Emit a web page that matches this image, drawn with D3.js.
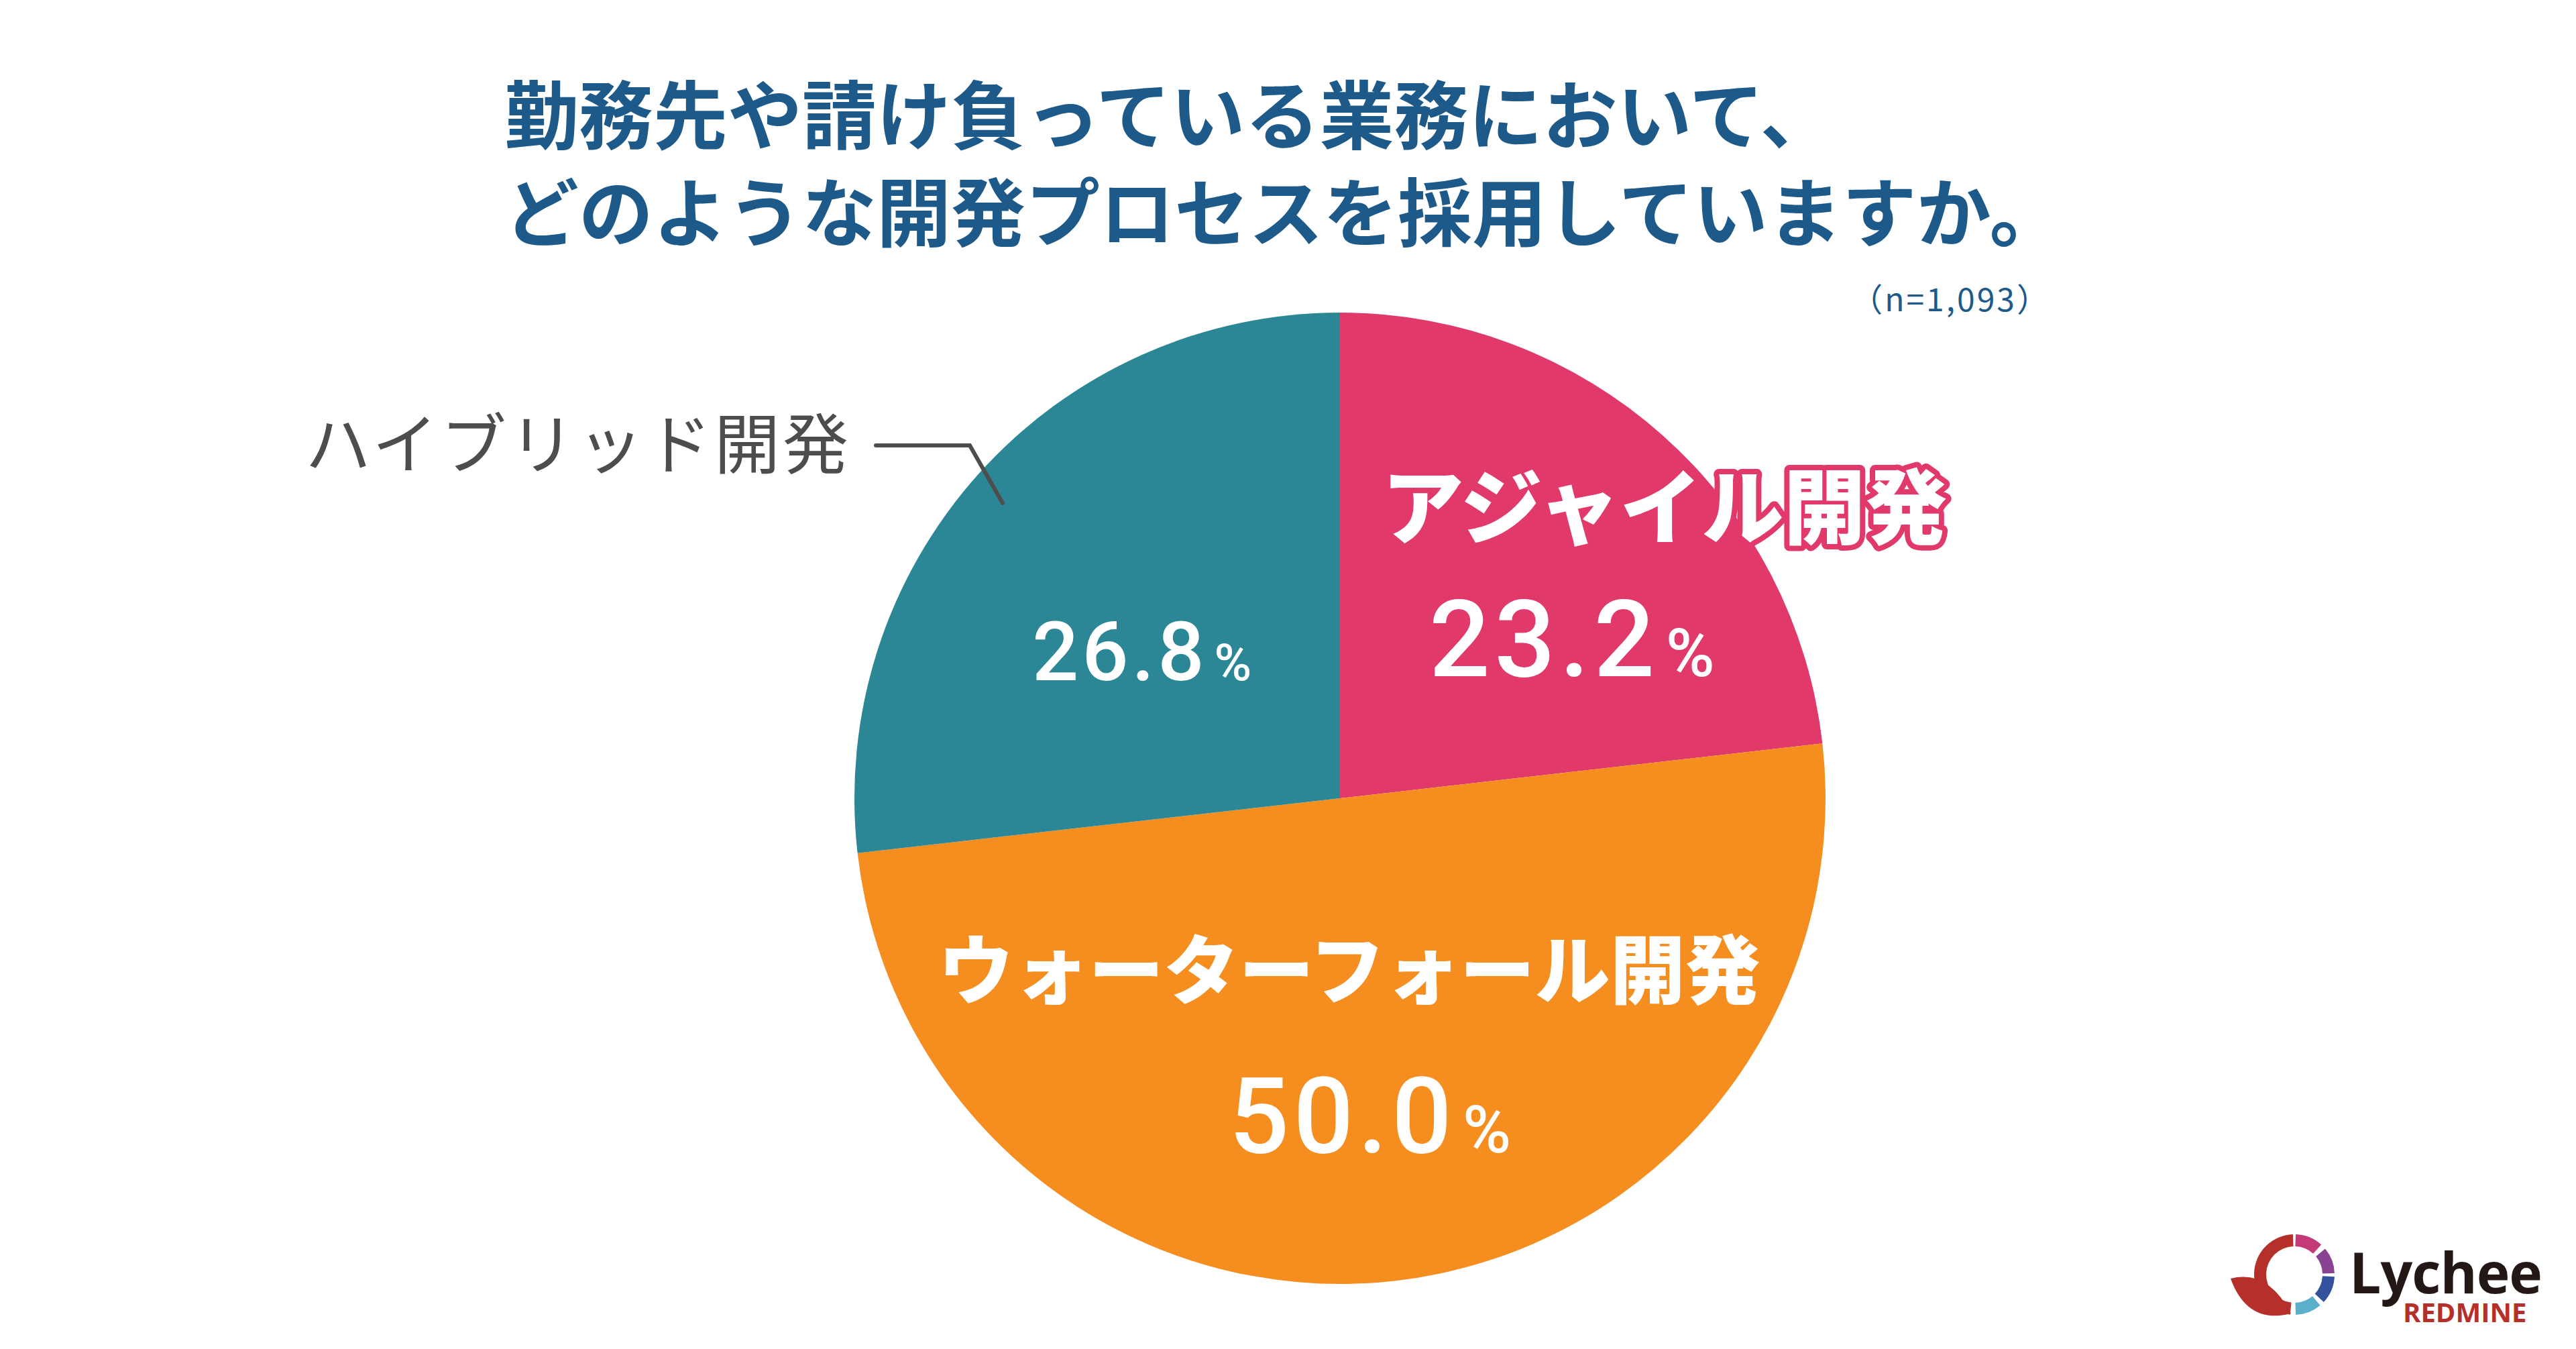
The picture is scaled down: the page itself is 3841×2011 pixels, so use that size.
<!DOCTYPE html>
<html><head><meta charset="utf-8">
<script src="https://cdn.jsdelivr.net/npm/d3@7"></script>
<style>body{margin:0;background:#fff}svg{display:block}</style>
</head><body>
<script>
const categories = ["アジャイル開発", "ウォーターフォール開発", "ハイブリッド開発"];
const values = [23.2, 50.0, 26.8];
const colors = ["#E0396A", "#F58D1F", "#2B8796"];
const titleLines = ["勤務先や請け負っている業務において、", "どのような開発プロセスを採用していますか。"];
const sampleNote = "（n=1,093）";

const W = 3841, H = 2011;
const svg = d3.select("body").append("svg").attr("width", W).attr("height", H);
const F = "'Noto Sans CJK JP','Noto Sans',sans-serif";

svg.selectAll("text.title").data(titleLines).join("text")
  .attr("x", 752).attr("y", (d, i) => 214 + i * 145)
  .attr("font-family", F).attr("font-weight", 700).attr("font-size", 111)
  .attr("fill", "#1D5A8A").text(d => d);
svg.append("text").attr("x", 3058).attr("y", 464).attr("text-anchor", "end")
  .attr("font-family", F).attr("font-size", 48).attr("fill", "#1D5A8A").attr("letter-spacing", 3).text(sampleNote);

const cx = 1998, cy = 1190, R = 724;
const pie = d3.pie().sort(null).value(d => d)(values);
const arc = d3.arc().innerRadius(0).outerRadius(R);
const g = svg.append("g").attr("transform", `translate(${cx},${cy})`);
g.selectAll("path").data(pie).join("path").attr("d", arc).attr("fill", (d, i) => colors[i]);

function pct(x, y, v, size) {
  const t = svg.append("text").attr("x", x).attr("y", y).attr("text-anchor", "middle")
    .attr("font-family", "Roboto,'Liberation Sans',sans-serif").attr("font-weight", 500)
    .attr("fill", "#fff").attr("font-size", size).attr("letter-spacing", size * 0.04);
  t.append("tspan").text(v.toFixed(1));
  t.append("tspan").attr("font-size", size * 0.62).attr("dx", 10).text("%");
}
svg.append("text").attr("x", 2482).attr("y", 801).attr("text-anchor", "middle")
  .attr("font-family", F).attr("font-weight", 900).attr("font-size", 122)
  .attr("fill", "#fff").attr("stroke", "#E0396A").attr("stroke-width", 16)
  .attr("paint-order", "stroke").attr("stroke-linejoin", "round").text(categories[0]);
pct(2347, 1008, values[0], 160);
svg.append("text").attr("x", 2012).attr("y", 1488).attr("text-anchor", "middle")
  .attr("font-family", F).attr("font-weight", 900).attr("font-size", 112)
  .attr("fill", "#fff").text(categories[1]);
pct(2046, 1718, values[1], 158);
pct(1705, 1014, values[2], 122);

svg.append("text").attr("x", 1269).attr("y", 698).attr("text-anchor", "end")
  .attr("font-family", F).attr("font-size", 98).attr("letter-spacing", 4).attr("fill", "#4d4d4d").text(categories[2]);
svg.append("path").attr("d", "M1306,664 L1446,664 L1495,750")
  .attr("fill", "none").attr("stroke", "#4d4d4d").attr("stroke-width", 6).attr("stroke-linecap", "round");

// logo
const lg = svg.append("g").attr("transform", "translate(3421,1900)");
const la = d3.arc().innerRadius(42).outerRadius(60);
const deg = Math.PI / 180;
[[2, 42, "#C43A78"], [50, 88, "#8A4393"], [93, 133, "#33519D"], [140, 178, "#5BAFCB"], [186, 358, "#B5302A"]]
  .forEach(s => lg.append("path").attr("d", la({startAngle: s[0]*deg, endAngle: s[1]*deg})).attr("fill", s[2]));
lg.append("path").attr("d", "M-95,6 Q-40,-8 -5,58 Q-70,75 -95,6Z").attr("fill", "#B5302A");
svg.append("text").attr("x", 3503).attr("y", 1928).attr("font-family", "'Open Sans',sans-serif")
  .attr("font-weight", 700).attr("font-size", 84).attr("fill", "#231815").attr("letter-spacing", -1).text("Lychee");
svg.append("text").attr("x", 3583).attr("y", 1971).attr("font-family", "'Open Sans',sans-serif")
  .attr("font-weight", 700).attr("font-size", 40).attr("fill", "#B5302A").text("REDMINE");
</script>
</body></html>
